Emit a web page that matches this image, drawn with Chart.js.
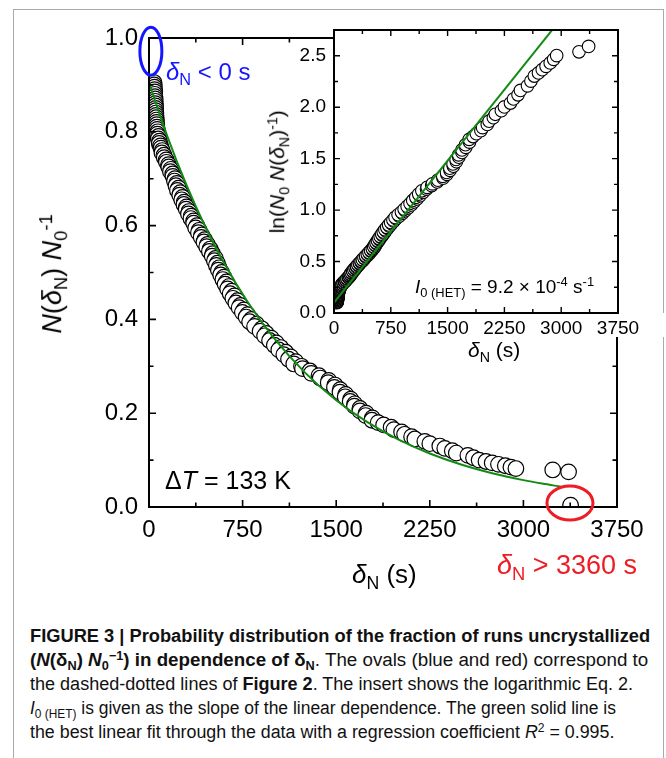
<!DOCTYPE html>
<html>
<head>
<meta charset="utf-8">
<title>Fraction of runs uncrystallized</title>
<script src="https://cdn.jsdelivr.net/npm/chart.js@4.4.1/dist/chart.umd.min.js"></script>
<style>
  html, body { margin: 0; padding: 0; background: #fff; }
  body { width: 666px; height: 758px; position: relative; overflow: hidden;
         font-family: "Liberation Sans", Arial, sans-serif; color: #000; }
  #border { position: absolute; left: 13px; top: 9px; width: 649px; height: 760px;
            border: 1.5px solid #aaa; border-bottom: none; }
  canvas { position: absolute; }
  #mainChart { left: 0; top: 0; }
  #insetChart { left: 250px; top: 0; }
  .txt { position: absolute; white-space: nowrap; line-height: 1; }
  .rot { width: 300px; text-align: center; transform: rotate(-90deg); }
  .sb { font-size: 0.68em; position: relative; top: 0.32em; }
  .sp { font-size: 0.68em; position: relative; top: -0.5em; }
  .blue { color: #1515ff; }
  .red { color: #ee1c24; }
  .cap { color: #111; transform-origin: 0 0; }
</style>
</head>
<body>
<div id="border"></div>
<canvas id="mainChart" width="666" height="600"></canvas>
<canvas id="insetChart" width="416" height="370"></canvas>

<!-- axis titles -->
<div class="txt rot" data-x="62" data-y="274" data-size="27"><i>N</i>(<i>δ</i><span class="sb">N</span>) <i>N</i><span class="sb">0</span><span class="sp">-1</span></div>
<div class="txt" data-x="352" data-y="583" data-size="26"><i>δ</i><span class="sb">N</span> (s)</div>
<div class="txt rot" data-x="284" data-y="172" data-size="21">ln(<i>N</i><span class="sb">0</span> <i>N</i>(<i>δ</i><span class="sb">N</span>)<span class="sp">-1</span>)</div>
<div class="txt" data-x="468" data-y="357" data-size="21"><i>δ</i><span class="sb">N</span> (s)</div>

<!-- annotations -->
<div class="txt blue" data-x="166" data-y="80" data-size="24"><i>δ</i><span class="sb">N</span> &lt; 0 s</div>
<div class="txt red" data-x="497" data-y="575" data-size="27"><i>δ</i><span class="sb">N</span> &gt; 3360 s</div>
<div class="txt" data-x="165" data-y="489" data-size="25">Δ<i>T</i> = 133 K</div>
<div class="txt" data-x="415" data-y="293" data-size="19"><i>I</i><span class="sb">0 (HET)</span> = 9.2 × 10<span class="sp">-4</span> s<span class="sp">-1</span></div>

<!-- caption, each line stretched to its width -->
<div class="txt cap" data-x="30" data-y="642" data-size="18" data-w="620"><b>FIGURE 3 | Probability distribution of the fraction of runs uncrystallized</b></div>
<div class="txt cap" data-x="30" data-y="666" data-size="18" data-w="618"><b>(<i>N</i>(δ<span class="sb">N</span>) <i>N</i><span class="sb">0</span><span class="sp">−1</span>) in dependence of δ<span class="sb">N</span></b>. The ovals (blue and red) correspond to</div>
<div class="txt cap" data-x="30" data-y="690" data-size="18" data-w="603">the dashed-dotted lines of <b>Figure 2</b>. The insert shows the logarithmic Eq. 2.</div>
<div class="txt cap" data-x="30" data-y="714" data-size="18" data-w="586"><i>I</i><span class="sb">0 (HET)</span> is given as the slope of the linear dependence. The green solid line is</div>
<div class="txt cap" data-x="30" data-y="738" data-size="18" data-w="584">the best linear fit through the data with a regression coefficient <i>R</i><span class="sp">2</span> = 0.995.</div>

<script>
// waiting time until crystallization (s) and the fraction of runs still liquid
var deltaN = [
  40, 41, 43, 44, 46, 46, 47, 49, 50, 50, 52, 53, 53, 55, 56, 57, 59, 60, 62, 63,
  66, 70, 68, 76, 74, 84, 82, 92, 96, 106, 104, 120, 122, 138, 140, 156, 158, 174, 172, 190,
  192, 208, 204, 222, 216, 236, 228, 250, 246, 268, 262, 282, 280, 300, 298, 320, 316, 338, 336, 358,
  358, 384, 374, 402, 396, 422, 418, 446, 440, 468, 462, 490, 484, 510, 506, 532, 524, 548, 540, 562,
  556, 582, 574, 600, 592, 620, 610, 640, 630, 662, 650, 684, 672, 708, 696, 732, 722, 760, 748, 790,
  778, 820, 806, 862, 846, 904, 890, 940, 926, 980, 966, 1020, 1004, 1056, 1040, 1096, 1080, 1136, 1118, 1176,
  1160, 1222, 1230, 1290, 1300, 1362, 1372, 1440, 1436, 1490, 1486, 1532, 1530, 1576, 1572, 1616, 1612, 1648, 1646, 1690,
  1690, 1740, 1736, 1790, 1786, 1836, 1880, 1940, 1962, 2024, 2048, 2104, 2130, 2210, 2250, 2330, 2370, 2430, 2462, 2555,
  2600, 2645, 2700, 2750, 2800, 2855, 2900, 2940, 3235, 3362, 3378
];
var fracUncryst = [
  0.905, 0.900, 0.895, 0.890, 0.885, 0.880, 0.875, 0.870, 0.865, 0.860, 0.855, 0.850, 0.845, 0.840, 0.835, 0.830, 0.825, 0.820, 0.815, 0.810,
  0.805, 0.800, 0.795, 0.790, 0.785, 0.780, 0.775, 0.770, 0.765, 0.760, 0.755, 0.750, 0.745, 0.740, 0.735, 0.730, 0.725, 0.720, 0.715, 0.710,
  0.705, 0.700, 0.695, 0.690, 0.685, 0.680, 0.675, 0.670, 0.665, 0.660, 0.655, 0.650, 0.645, 0.640, 0.635, 0.630, 0.625, 0.620, 0.615, 0.610,
  0.605, 0.600, 0.595, 0.590, 0.585, 0.580, 0.575, 0.570, 0.565, 0.560, 0.555, 0.550, 0.545, 0.540, 0.535, 0.530, 0.525, 0.520, 0.515, 0.510,
  0.505, 0.500, 0.495, 0.490, 0.485, 0.480, 0.475, 0.470, 0.465, 0.460, 0.455, 0.450, 0.445, 0.440, 0.435, 0.430, 0.425, 0.420, 0.415, 0.410,
  0.405, 0.400, 0.395, 0.390, 0.385, 0.380, 0.375, 0.370, 0.365, 0.360, 0.355, 0.350, 0.345, 0.340, 0.335, 0.330, 0.325, 0.320, 0.315, 0.310,
  0.305, 0.300, 0.295, 0.290, 0.285, 0.280, 0.275, 0.270, 0.265, 0.260, 0.255, 0.250, 0.245, 0.240, 0.235, 0.230, 0.225, 0.220, 0.215, 0.210,
  0.205, 0.200, 0.195, 0.190, 0.185, 0.180, 0.175, 0.170, 0.165, 0.160, 0.155, 0.150, 0.145, 0.140, 0.135, 0.130, 0.125, 0.120, 0.115, 0.110,
  0.105, 0.100, 0.097, 0.094, 0.091, 0.088, 0.085, 0.082, 0.079, 0.075, 0.004
];

// linear fit of ln(N0/N) = b + I0 * t
var rateHet = 9.2e-4;      // I0 (HET), s^-1
var fitIntercept = 0.1;
var fitT = [0, 150, 300, 450, 600, 800, 1000, 1250, 1500, 1750, 2000, 2250, 2500, 2750, 3000, 3150, 3300];
var insetFitT = [0, 3000];

var mainXTicks = [0, 750, 1500, 2250, 3000, 3750];
var mainXMinor = [375, 1125, 1875, 2625, 3375];
var mainYTicks = [0, 0.2, 0.4, 0.6, 0.8, 1.0];
var mainYMinor = [0.1, 0.3, 0.5, 0.7, 0.9];
var insetXTicks = [0, 750, 1500, 2250, 3000, 3750];
var insetXMinor = [375, 1125, 1875, 2625, 3375];
var insetYTicks = [0, 0.5, 1.0, 1.5, 2.0, 2.5];
var insetYMinor = [0.25, 0.75, 1.25, 1.75, 2.25];

var fitGreen = '#138a13';
var fontFamily = "'Liberation Sans', Arial, sans-serif";

// place html labels by their baseline
document.querySelectorAll('.txt').forEach(function(el) {
    var fs = parseFloat(el.dataset.size);
    var x = parseFloat(el.dataset.x);
    var y = parseFloat(el.dataset.y);
    var asc = 0.846 * fs;
    el.style.fontSize = fs + 'px';
    el.style.top = (y - asc) + 'px';
    if (el.classList.contains('rot')) {
        el.style.left = (x - 150) + 'px';
        el.style.transformOrigin = '150px ' + asc + 'px';
    } else {
        el.style.left = x + 'px';
    }
    if (el.dataset.w) {
        el.style.transform = 'scaleX(' + (parseFloat(el.dataset.w) / el.offsetWidth) + ')';
    }
});

// box with inward ticks on all four sides, plus optional ovals
var framePlugin = {
    id: 'frame',
    beforeDraw: function(chart, args, opts) {
        if (!opts.fill) return;
        var a = chart.chartArea, ctx = chart.ctx;
        ctx.save();
        ctx.fillStyle = '#fff';
        ctx.fillRect(a.left, a.top, a.right - a.left, a.bottom - a.top);
        // keep the tick label strip clear as well
        ctx.fillRect(a.left - 12, a.bottom, chart.width - a.left + 12, opts.labelStrip);
        ctx.restore();
    },
    afterDraw: function(chart, args, opts) {
        var ctx = chart.ctx, a = chart.chartArea;
        var xs = chart.scales.x, ys = chart.scales.y;
        ctx.save();
        ctx.strokeStyle = '#000';
        ctx.lineWidth = opts.tickWidth;
        ctx.beginPath();
        function xTicks(vals, len) {
            vals.forEach(function(v) {
                var px = xs.getPixelForValue(v);
                ctx.moveTo(px, a.bottom); ctx.lineTo(px, a.bottom - len);
                ctx.moveTo(px, a.top); ctx.lineTo(px, a.top + len);
            });
        }
        function yTicks(vals, len) {
            vals.forEach(function(v) {
                var py = ys.getPixelForValue(v);
                ctx.moveTo(a.left, py); ctx.lineTo(a.left + len, py);
                ctx.moveTo(a.right, py); ctx.lineTo(a.right - len, py);
            });
        }
        xTicks(opts.xMajor, opts.major);
        xTicks(opts.xMinor, opts.minor);
        yTicks(opts.yMajor, opts.major);
        yTicks(opts.yMinor, opts.minor);
        ctx.stroke();
        ctx.lineWidth = opts.axisWidth;
        ctx.strokeRect(a.left, a.top, a.right - a.left, a.bottom - a.top);
        (opts.ovals || []).forEach(function(o) {
            ctx.beginPath();
            ctx.strokeStyle = o.color;
            ctx.lineWidth = 3;
            ctx.ellipse(xs.getPixelForValue(o.x), ys.getPixelForValue(o.y), o.rx, o.ry, 0, 0, Math.PI * 2);
            ctx.stroke();
        });
        ctx.restore();
    }
};

function setTicks(list) {
    return function(scale) {
        scale.ticks = list.map(function(v) { return { value: v }; });
    };
}

var mainPoints = deltaN.map(function(t, i) { return { x: t, y: fracUncryst[i] }; });
var mainFit = fitT.map(function(t) { return { x: t, y: Math.exp(-(fitIntercept + rateHet * t)) }; });

new Chart(document.getElementById('mainChart'), {
    type: 'scatter',
    data: {
        datasets: [{
            type: 'line',
            data: mainFit,
            borderColor: fitGreen,
            borderWidth: 2,
            pointRadius: 0,
            fill: false,
            cubicInterpolationMode: 'monotone',
            clip: 0
        }, {
            data: mainPoints,
            pointRadius: 7.8,
            pointBorderWidth: 1.2,
            pointBorderColor: '#000',
            pointBackgroundColor: '#fff',
            clip: 0
        }]
    },
    options: {
        responsive: false,
        animation: false,
        devicePixelRatio: 1,
        layout: { padding: { left: 89, top: 38, right: 49, bottom: 53 } },
        plugins: {
            legend: { display: false },
            tooltip: { enabled: false },
            frame: {
                xMajor: mainXTicks, xMinor: mainXMinor,
                yMajor: mainYTicks, yMinor: mainYMinor,
                major: 7, minor: 4.5, tickWidth: 1.6, axisWidth: 2,
                ovals: [
                    { x: 15, y: 0.972, rx: 11, ry: 24, color: '#1515ff' },
                    { x: 3373, y: 0.0085, rx: 23, ry: 17, color: '#ee1c24' }
                ]
            }
        },
        scales: {
            x: {
                type: 'linear', min: 0, max: 3750,
                afterBuildTicks: setTicks(mainXTicks),
                afterFit: function(s) { s.height = 40; },
                grid: { display: false, drawTicks: false },
                border: { display: false },
                ticks: { color: '#000', padding: 9, font: { size: 24, family: fontFamily },
                         callback: function(v) { return String(v); } }
            },
            y: {
                type: 'linear', min: 0, max: 1,
                afterBuildTicks: setTicks(mainYTicks),
                afterFit: function(s) { s.width = 60; },
                grid: { display: false, drawTicks: false },
                border: { display: false },
                ticks: { color: '#000', padding: 11, font: { size: 24, family: fontFamily },
                         callback: function(v) { return v.toFixed(1); } }
            }
        }
    },
    plugins: [framePlugin]
});

// inset: ln(N0 / N) against the same waiting times
var insetPoints = deltaN.slice(0, -1).map(function(t, i) { return { x: t, y: Math.log(1 / fracUncryst[i]) }; });
var insetFit = insetFitT.map(function(t) { return { x: t, y: fitIntercept + rateHet * t }; });

new Chart(document.getElementById('insetChart'), {
    type: 'scatter',
    data: {
        datasets: [{
            type: 'line',
            data: insetFit,
            borderColor: fitGreen,
            borderWidth: 2,
            pointRadius: 0,
            fill: false,
            clip: 0
        }, {
            data: insetPoints,
            pointRadius: 6.3,
            pointBorderWidth: 1.1,
            pointBorderColor: '#000',
            pointBackgroundColor: '#fff',
            clip: 0
        }]
    },
    options: {
        responsive: false,
        animation: false,
        devicePixelRatio: 1,
        layout: { padding: { left: 34, top: 30, right: 48, bottom: 22 } },
        plugins: {
            legend: { display: false },
            tooltip: { enabled: false },
            frame: {
                fill: true, labelStrip: 24,
                xMajor: insetXTicks, xMinor: insetXMinor,
                yMajor: insetYTicks, yMinor: insetYMinor,
                major: 6, minor: 4, tickWidth: 1.4, axisWidth: 2
            }
        },
        scales: {
            x: {
                type: 'linear', min: 0, max: 3750,
                afterBuildTicks: setTicks(insetXTicks),
                afterFit: function(s) { s.height = 35; },
                grid: { display: false, drawTicks: false },
                border: { display: false },
                ticks: { color: '#000', padding: 4, font: { size: 19, family: fontFamily },
                         callback: function(v) { return String(v); } }
            },
            y: {
                type: 'linear', min: 0, max: 2.75,
                afterBuildTicks: setTicks(insetYTicks),
                afterFit: function(s) { s.width = 50; },
                grid: { display: false, drawTicks: false },
                border: { display: false },
                ticks: { color: '#000', padding: 8, font: { size: 19, family: fontFamily },
                         callback: function(v) { return v.toFixed(1); } }
            }
        }
    },
    plugins: [framePlugin]
});
</script>
</body>
</html>
